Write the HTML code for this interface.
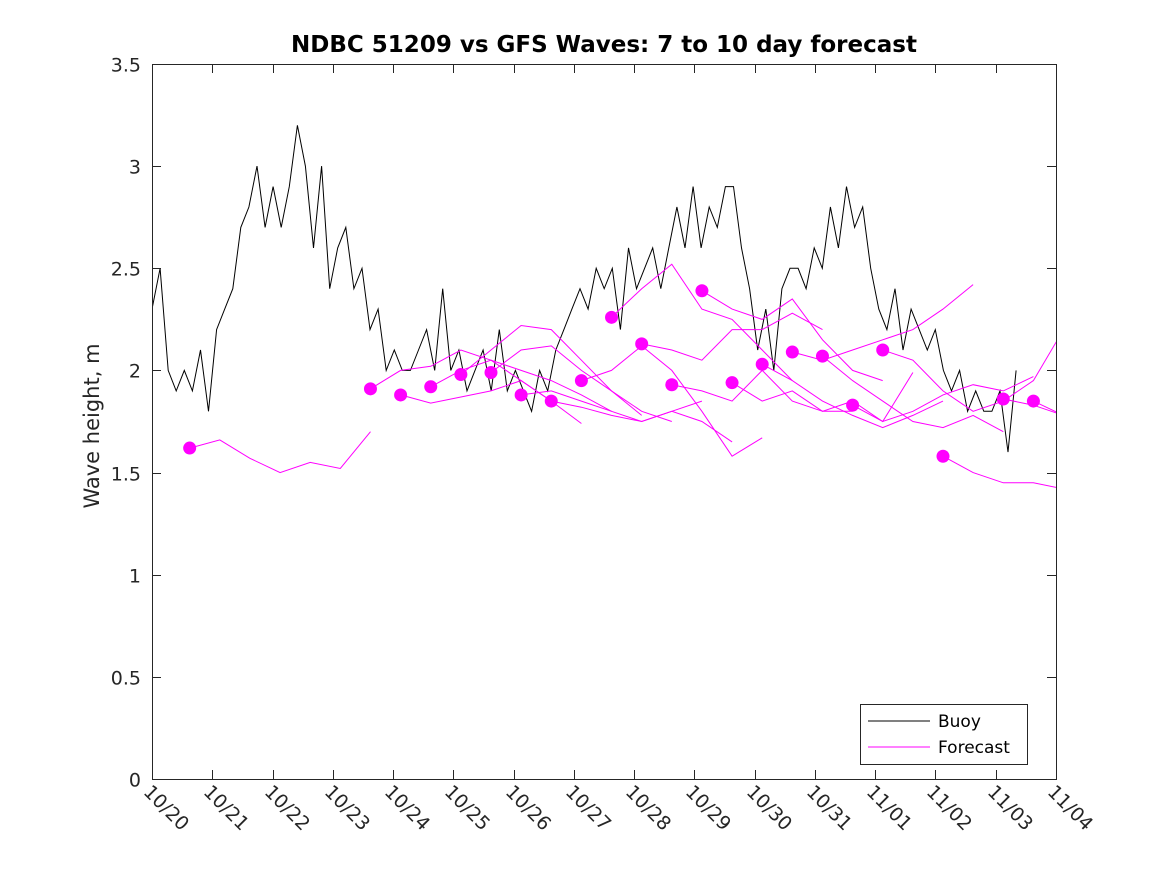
<!DOCTYPE html>
<html><head><meta charset="utf-8"><style>
body{margin:0;background:#fff;}
svg{display:block;font-family:"DejaVu Sans","Liberation Sans",sans-serif;}
</style></head><body>
<svg id="chart" width="1167" height="875" viewBox="0 0 1167 875" xmlns="http://www.w3.org/2000/svg">
<rect x="0" y="0" width="1167" height="875" fill="#fff"/>
<text x="604" y="52" text-anchor="middle" font-size="23" font-weight="bold" fill="#000">NDBC 51209 vs GFS Waves: 7 to 10 day forecast</text>
<text transform="translate(99,426) rotate(-90)" text-anchor="middle" font-size="21" fill="#262626">Wave height, m</text>
<g id="plot"></g>
<g id="axes"></g>
<g>
<rect x="860.5" y="704.5" width="167" height="60" fill="#fff" stroke="#262626" stroke-width="1"/>
<line x1="868" y1="721" x2="930" y2="721" stroke="#000" stroke-width="1"/>
<text x="938" y="727" font-size="17" fill="#000">Buoy</text>
<line x1="868" y1="747" x2="930" y2="747" stroke="#ff00ff" stroke-width="1"/>
<text x="938" y="753" font-size="17" fill="#000">Forecast</text>
</g>
</svg>
<script>
const xTickLabels = ["10/20","10/21","10/22","10/23","10/24","10/25","10/26","10/27","10/28","10/29","10/30","10/31","11/01","11/02","11/03","11/04"];
const yTickLabels = ["0","0.5","1","1.5","2","2.5","3","3.5"];
const yTickValues = [0,0.5,1,1.5,2,2.5,3,3.5];
const buoyStepDays = 0.134;
const buoyValues = [
2.3,2.5,2.0,1.9,2.0,1.9,2.1,1.8,
2.2,2.3,2.4,2.7,2.8,3.0,2.7,2.9,
2.7,2.9,3.2,3.0,2.6,3.0,2.4,2.6,
2.7,2.4,2.5,2.2,2.3,2.0,2.1,2.0,
2.0,2.1,2.2,2.0,2.4,2.0,2.1,1.9,
2.0,2.1,1.9,2.2,1.9,2.0,1.9,1.8,
2.0,1.9,2.1,2.2,2.3,2.4,2.3,2.5,
2.4,2.5,2.2,2.6,2.4,2.5,2.6,2.4,
2.6,2.8,2.6,2.9,2.6,2.8,2.7,2.9,
2.9,2.6,2.4,2.1,2.3,2.0,2.4,2.5,
2.5,2.4,2.6,2.5,2.8,2.6,2.9,2.7,
2.8,2.5,2.3,2.2,2.4,2.1,2.3,2.2,
2.1,2.2,2.0,1.9,2.0,1.8,1.9,1.8,
1.8,1.9,1.6,2.0];
const forecastStepDays = 0.5;
const forecastStarts = [0.625,3.625,4.125,4.625,5.125,5.625,6.125,6.625,7.125,7.625,8.125,8.625,9.125,9.625,10.125,10.625,11.125,11.625,12.125,13.125,14.125,14.625];
const forecast01 = [1.62,1.66,1.57,1.50,1.55,1.52,1.70];
const forecast02 = [1.91,2.00,2.02,2.10,2.05,1.95,1.85];
const forecast03 = [1.88,1.84,1.87,1.90,1.95,1.85,1.74];
const forecast04 = [1.92,2.00,2.05,2.00,1.95,1.88,1.80];
const forecast05 = [1.98,2.10,2.22,2.20,2.05,1.90,1.78];
const forecast06 = [1.99,2.10,2.12,2.00,1.90,1.80,1.75];
const forecast07 = [1.88,1.90,1.85,1.80,1.75,1.80,1.85];
const forecast08 = [1.85,1.82,1.78,1.75,1.80,1.75,1.65];
const forecast09 = [1.95,2.00,2.12,2.00,1.80,1.58,1.67];
const forecast10 = [2.26,2.40,2.52,2.30,2.25,2.10,1.95];
const forecast11 = [2.13,2.10,2.05,2.20,2.20,2.28,2.20];
const forecast12 = [1.93,1.90,1.85,2.00,1.85,1.80,1.80];
const forecast13 = [2.39,2.30,2.25,2.35,2.15,2.00,1.95];
const forecast14 = [1.94,1.85,1.90,1.80,1.85,1.75,1.99];
const forecast15 = [2.03,1.95,1.85,1.78,1.72,1.78,1.85];
const forecast16 = [2.09,2.05,2.10,2.15,2.20,2.30,2.42];
const forecast17 = [2.07,1.95,1.85,1.75,1.72,1.78,1.70];
const forecast18 = [1.83,1.75,1.80,1.88,1.93,1.90,1.97];
const forecast19 = [2.10,2.05,1.90,1.80,1.85,1.95,2.20];
const forecast20 = [1.58,1.50,1.45,1.45,1.42,1.38,1.32];
const forecast21 = [1.86,1.83,1.78,1.73];
const forecast22 = [1.85,1.78,1.72];
const forecastSeries = [forecast01,forecast02,forecast03,forecast04,forecast05,forecast06,forecast07,forecast08,forecast09,forecast10,forecast11,forecast12,forecast13,forecast14,forecast15,forecast16,forecast17,forecast18,forecast19,forecast20,forecast21,forecast22];

const NS = "http://www.w3.org/2000/svg";
const L = 152, R = 1056, T = 64, B = 779;
const xDays = 15, yMax = 3.5;
function xs(d){ return L + d/xDays*(R-L); }
function ys(v){ return B - v/yMax*(B-T); }
function mk(tag, attrs, parent){ const e = document.createElementNS(NS, tag); for (const k in attrs) e.setAttribute(k, attrs[k]); parent.appendChild(e); return e; }

const plot = document.getElementById('plot');
const axes = document.getElementById('axes');

const defs = mk('defs', {}, plot);
const cp = mk('clipPath', {id:'clip'}, defs);
mk('rect', {x:L, y:T, width:R-L, height:B-T}, cp);
const g = mk('g', {'clip-path':'url(#clip)'}, plot);

let bp = '';
buoyValues.forEach((v,i)=>{ bp += (i?'L':'M') + xs(i*buoyStepDays).toFixed(1) + ' ' + ys(v).toFixed(1); });
const buoy = mk('path', {d:bp, fill:'none', stroke:'#000', 'stroke-width':1}, g);



forecastSeries.forEach((s, k)=>{
  const t0 = forecastStarts[k];
  let p = '';
  s.forEach((v,i)=>{ p += (i?'L':'M') + xs(t0 + i*forecastStepDays).toFixed(1) + ' ' + ys(v).toFixed(1); });
  const line = mk('path', {d:p, fill:'none', stroke:'#ff00ff', 'stroke-width':1}, g);
  
  
  const dot = mk('circle', {cx:xs(t0), cy:ys(s[0]), r:6.5, fill:'#ff00ff'}, g);
  
  
});

mk('rect', {x:L+0.5, y:T+0.5, width:R-L, height:B-T, fill:'none', stroke:'#262626', 'stroke-width':1}, axes);
yTickValues.forEach((v,i)=>{
  const y = Math.round(ys(v))+0.5;
  mk('line', {x1:L, y1:y, x2:L+9, y2:y, stroke:'#262626'}, axes);
  mk('line', {x1:R-9, y1:y, x2:R, y2:y, stroke:'#262626'}, axes);
  const t = mk('text', {x:L-11, y:y+7, 'text-anchor':'end', 'font-size':19, fill:'#262626'}, axes);
  t.textContent = yTickLabels[i];
  
  
});
xTickLabels.forEach((lab,i)=>{
  const x = Math.round(xs(i))+0.5;
  mk('line', {x1:x, y1:B, x2:x, y2:B-9, stroke:'#262626'}, axes);
  mk('line', {x1:x, y1:T, x2:x, y2:T+9, stroke:'#262626'}, axes);
  const t = mk('text', {transform:'translate('+(x-10)+','+(B+14)+') rotate(45)', 'font-size':19, fill:'#262626'}, axes);
  t.textContent = lab;
  
  
});
</script>
</body></html>
